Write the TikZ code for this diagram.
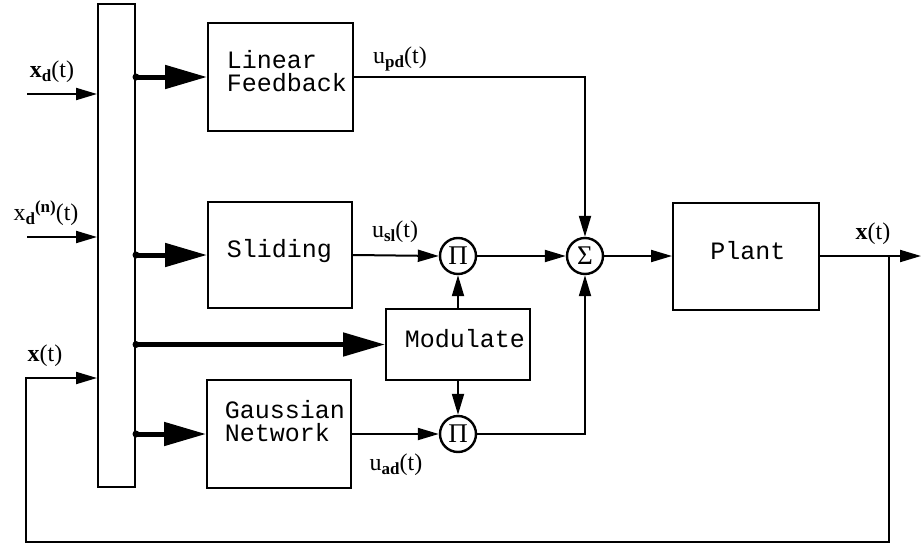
\documentclass[tikz,border=0pt]{standalone}
\usepackage{fontspec}
\setmainfont{Liberation Serif}
\newfontfamily\monofont{Liberation Mono}
\usetikzlibrary{arrows.meta}
\newcommand{\lsub}[1]{\raisebox{-0.35ex}{\fontsize{17}{17}\selectfont\bfseries #1}}
\newcommand{\lsup}[1]{\raisebox{0.75ex}{\fontsize{17}{17}\selectfont\bfseries #1}}
\begin{document}
\begin{tikzpicture}[x=1pt,y=-1pt,
  box/.style={draw, line width=2pt, inner sep=0pt},
  mono/.style={font=\monofont\fontsize{25}{23}\selectfont, inner sep=0pt, align=left},
  lbl/.style={font=\fontsize{24}{24}\selectfont, inner sep=0pt},
  opn/.style={draw, circle, line width=2.4pt, minimum size=36pt, inner sep=0pt, font=\fontsize{27}{27}\selectfont},
  arr/.style={line width=2pt, line join=miter, -{Triangle[length=21pt,width=12pt]}},
  bigarr/.style={line width=5pt, -{Triangle[length=42pt,width=23pt]}},
  wire/.style={line width=2pt, line join=miter}]
\useasboundingbox (0,0) rectangle (922,546);

% blocks
\node[box, minimum width=37pt, minimum height=483pt] (bus) at (116.5,245.5) {};
\node[box, minimum width=145pt, minimum height=108pt] (lf) at (280.5,77) {};
\node[box, minimum width=144pt, minimum height=106pt] (sl) at (280,255) {};
\node[box, minimum width=144pt, minimum height=71pt] (mod) at (458,344.5) {};
\node[box, minimum width=144pt, minimum height=108pt] (gn) at (279,434) {};
\node[box, minimum width=146pt, minimum height=107pt] (plant) at (746,256) {};
\node[opn] (p1) at (458,256) {Π};
\node[opn] (p2) at (458,434) {Π};
\node[opn] (sig) at (585,256) {Σ};

% block texts
\node[mono] (tlf) at (287,71) {Linear\\Feedback};
\node[mono] (tsl) at (279.5,251) {Sliding};
\node[mono] (tmod) at (465,339) {Modulate};
\node[mono] (tgn) at (285,421) {Gaussian\\Network};
\node[mono] (tpl) at (748,251) {Plant};

% labels
\node[lbl] (lxd) at (52,72) {\textbf{x}\lsub{d}(t)};
\node[lbl] (lxdn) at (46,213) {x\lsub{d}\lsup{(n)}(t)};
\node[lbl] (lx) at (45,356) {\textbf{x}(t)};
\node[lbl] (lupd) at (400,59) {u\lsub{pd}(t)};
\node[lbl] (lusl) at (395,232) {u\lsub{sl}(t)};
\node[lbl] (luad) at (396,465) {u\lsub{ad}(t)};
\node[lbl] (lxo) at (873,234) {\textbf{x}(t)};

% inputs
\coordinate (i1) at (27,94);
\coordinate (i2) at (27,237);
\coordinate (xin) at (26,378);
\draw[arr] (i1) -- (i1 -| bus.west);
\draw[arr] (i2) -- (i2 -| bus.west);

% bus taps
\foreach \b in {lf,sl,mod,gn}{
  \fill (bus.east |- \b.west) circle (3.5pt);
  \draw[bigarr] (bus.east |- \b.west) -- (\b.west);
}

% signal paths
\draw[arr] (lf.east) -| (sig.north);
\draw[arr] (sl.east) -- (p1.west);
\draw[arr] (gn.east) -- (p2.west);
\draw[arr] (mod.north) -- (p1.south);
\draw[arr] (mod.south) -- (p2.north);
\draw[arr] (p1.east) -- (sig.west);
\draw[arr] (p2.east) -| (sig.south);
\draw[arr] (sig.east) -- (plant.west);

% output and feedback
\coordinate (out) at (921,256);
\coordinate (fb) at (889,256);
\coordinate (fbr) at (889,542);
\coordinate (fbl) at (26,542);
\draw[arr] (plant.east) -- (out);
\draw[arr] (fb) -- (fbr) -- (fbl) -- (xin) -- (xin -| bus.west);
\end{tikzpicture}
\end{document}
